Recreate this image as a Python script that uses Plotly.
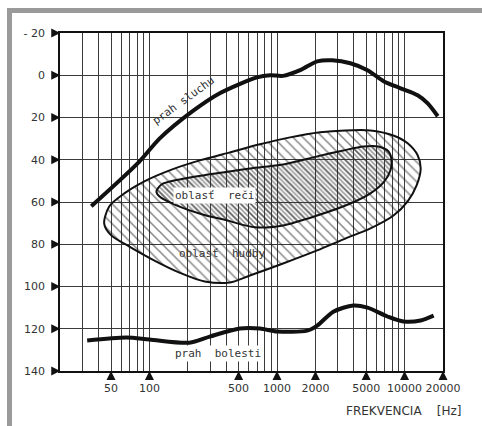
import math
import plotly.graph_objects as go

# ---- data (frequency in Hz, level in dB) ----
hear_f = [35, 83, 120, 218, 356, 697, 881, 1114, 1518, 2066, 2712, 3758, 5120, 6840, 9310, 12650, 15180, 18200]
hear_db = [62, 41, 30, 17, 8.5, 1.0, 0, 0.3, -2.4, -6.6, -7.1, -5.7, -2.4, 2.8, 6.2, 9.5, 13.3, 19.4]

pain_f = [32.5, 66, 100, 206, 297, 511, 735, 1000, 1722, 2066, 2762, 3965, 5120, 7340, 9820, 13360, 16900]
pain_db = [125.6, 124.2, 125.1, 126.6, 123.7, 119.9, 119.9, 121.3, 120.9, 118.5, 111.9, 109.0, 110.0, 114.2, 116.6, 116.1, 113.8]

music_f = [44.2, 48.4, 63.6, 91.3, 144, 248, 427, 735, 1266, 2180, 3430, 5400, 8050, 10570, 12660, 13370,
           12420, 10570, 8190, 5400, 3430, 2065, 1115, 613, 427, 271, 172, 109.5, 69.6, 50.2, 44.2]
music_db = [70.2, 62.1, 55.9, 50.2, 45.0, 40.3, 36.5, 32.7, 29.4, 27.0, 26.1, 26.1, 28.4, 32.2, 37.9, 44.1,
            52.1, 59.7, 66.4, 72.5, 77.3, 82.9, 89.1, 94.8, 98.1, 97.6, 93.4, 87.7, 81.1, 75.8, 70.2]

speech_f = [113.5, 124.3, 172, 297, 613, 1115, 2065, 3310, 4750, 6240, 7480, 7900, 7760, 6840, 5400, 3760,
            2065, 1115, 671, 404, 261, 163, 120, 113.5]
speech_db = [55.0, 51.7, 49.3, 46.9, 44.1, 42.2, 38.4, 35.6, 33.7, 33.7, 36.0, 40.3, 45.0, 50.7, 55.9, 60.7,
             66.4, 71.1, 72.0, 68.7, 65.9, 61.6, 57.4, 55.0]

# axes
grid_f = [20, 30, 40, 50, 60, 70, 80, 90, 100, 200, 300, 400, 500, 600, 700, 800, 900,
          1000, 2000, 3000, 4000, 5000, 6000, 7000, 8000, 9000, 10000, 20000]
x_labels = [50, 100, 500, 1000, 2000, 5000, 10000, 20000]
y_ticks = [-20, 0, 20, 40, 60, 80, 100, 120, 140]
y_text = ["- 20", "0", "20", "40", "60", "80", "100", "120", "140"]

INK = "#111111"
TXT = "#333333"
FONT = "DejaVu Sans"
MONO = "DejaVu Sans Mono"

fig = go.Figure()

fig.add_trace(go.Scatter(
    x=music_f, y=music_db, mode="lines", fill="toself",
    line=dict(color=INK, width=2, shape="spline", smoothing=0.8),
    fillcolor="rgba(0,0,0,0)",
    fillpattern=dict(shape="\\", size=7, solidity=0.22, fgcolor="#111111", bgcolor="rgba(0,0,0,0)"),
    hoverinfo="skip", showlegend=False))

fig.add_trace(go.Scatter(
    x=speech_f, y=speech_db, mode="lines", fill="toself",
    line=dict(color=INK, width=2, shape="spline", smoothing=0.8),
    fillcolor="rgba(0,0,0,0)",
    fillpattern=dict(shape="\\", size=3.5, solidity=0.45, fgcolor="#333333", bgcolor="rgba(0,0,0,0)"),
    hoverinfo="skip", showlegend=False))

fig.add_trace(go.Scatter(
    x=hear_f, y=hear_db, mode="lines",
    line=dict(color=INK, width=4, shape="spline", smoothing=0.8),
    hoverinfo="skip", showlegend=False))

fig.add_trace(go.Scatter(
    x=pain_f, y=pain_db, mode="lines",
    line=dict(color=INK, width=4, shape="spline", smoothing=0.8),
    hoverinfo="skip", showlegend=False))

# axis arrow markers (decorations at tick positions, tip on the axis line)
fig.add_trace(go.Scatter(
    x=[grid_f[0]] * len(y_ticks), y=y_ticks, mode="markers",
    marker=dict(symbol="arrow-right", size=9, color=INK),
    cliponaxis=False, hoverinfo="skip", showlegend=False))
fig.add_trace(go.Scatter(
    x=x_labels, y=[y_ticks[-1]] * len(x_labels), mode="markers",
    marker=dict(symbol="arrow-up", size=9, color=INK),
    cliponaxis=False, hoverinfo="skip", showlegend=False))

ticktext = [str(v) if v in x_labels else "" for v in grid_f]

fig.update_xaxes(
    type="log", range=[math.log10(20) - 0.002, math.log10(20000)],
    tickmode="array", tickvals=grid_f, ticktext=ticktext,
    showgrid=True, gridcolor="#3a3a3a", gridwidth=1,
    showline=True, linecolor=INK, linewidth=1.5, mirror=True,
    ticks="", ticklabelstandoff=6,
    tickfont=dict(family=FONT, size=11, color=TXT), zeroline=False)
fig.update_yaxes(
    range=[140, -20], tickmode="array", tickvals=y_ticks, ticktext=y_text,
    showgrid=True, gridcolor="#3a3a3a", gridwidth=1,
    showline=True, linecolor=INK, linewidth=1.5, mirror=True,
    ticks="", ticklabelstandoff=11,
    tickfont=dict(family=FONT, size=11, color=TXT), zeroline=False)

ann_font = dict(family=MONO, size=11, color=TXT)
fig.add_annotation(x=math.log10(185), y=11.9, text="prah sluchu", showarrow=False,
                   textangle=-36, font=ann_font)
fig.add_annotation(x=math.log10(325), y=56.9, text="oblasť  reči", showarrow=False,
                   font=ann_font, bgcolor="white")
fig.add_annotation(x=math.log10(369), y=84.4, text="oblasť  hudby", showarrow=False,
                   font=ann_font)
fig.add_annotation(x=math.log10(343), y=131.8, text="prah  bolesti", showarrow=False,
                   font=ann_font, bgcolor="white")
fig.add_annotation(xref="paper", yref="paper", x=0.897, y=-0.119, xanchor="center", yanchor="middle",
                   text="FREKVENCIA    [Hz]", showarrow=False,
                   font=dict(family=FONT, size=12, color=TXT))

# scanned page frame
fig.add_shape(type="rect", xref="paper", yref="paper", x0=-0.1384, x1=1.11, y0=1.0593, y1=1.074,
              fillcolor="#9a9a9a", line_width=0, layer="above")
fig.add_shape(type="rect", xref="paper", yref="paper", x0=-0.1384, x1=-0.1253, y0=-0.17, y1=1.074,
              fillcolor="#9a9a9a", line_width=0, layer="above")

fig.update_layout(
    width=482, height=426,
    margin=dict(l=60, r=39, t=33, b=55),
    paper_bgcolor="white", plot_bgcolor="white",
    showlegend=False)

fig.write_html("out.html")
